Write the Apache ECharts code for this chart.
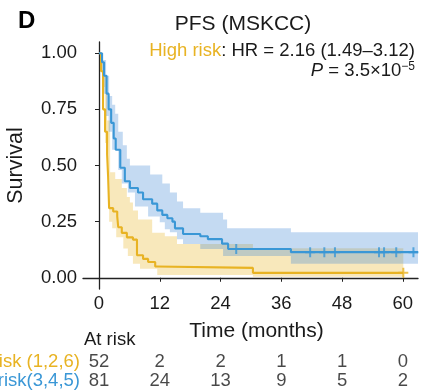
<!DOCTYPE html>
<html>
<head>
<meta charset="utf-8">
<script src="https://cdn.jsdelivr.net/npm/echarts@6/dist/echarts.min.js"></script>
<style>
  html, body { margin: 0; padding: 0; background: #fff; }
  #chart { width: 427px; height: 392px; }
</style>
</head>
<body>
<div id="chart"></div>
<script>
// KM curves: [months, survival]
const highRiskCurve = [[0,1],[0.4,0.92],[0.8,0.75],[1.2,0.65],[1.6,0.55],[1.8,0.45],[2.0,0.31],[2.8,0.295],[3.6,0.273],[3.8,0.225],[4.5,0.2],[5.5,0.18],[6.7,0.17],[7.5,0.1],[8.7,0.084],[9.7,0.07],[11.1,0.05],[11.5,0.044],[30.4,0.022],[60.1,0.022]];
const lowRiskCurve = [[0,1],[0.6,0.96],[1.0,0.9],[1.5,0.82],[1.9,0.75],[2.4,0.69],[2.9,0.62],[3.3,0.57],[4.2,0.49],[5.1,0.43],[6.1,0.4],[7.7,0.38],[8.7,0.35],[10.5,0.33],[11.5,0.3],[12.5,0.28],[13.5,0.265],[14.5,0.25],[15.0,0.22],[16.6,0.195],[20.0,0.185],[21.5,0.172],[24.3,0.152],[25.5,0.128],[37.9,0.114],[63,0.114]];

// confidence bands
const highRiskUpper = [[0,1],[0.8,0.9],[1.6,0.7],[2.2,0.47],[3.2,0.44],[4.5,0.4],[5.5,0.36],[6.1,0.335],[6.7,0.3],[7.7,0.26],[10.5,0.2],[13,0.185],[15.4,0.15],[30.4,0.132],[60.1,0.132]];
const highRiskLower = [[0,1],[0.6,0.85],[1.2,0.6],[1.8,0.45],[2.0,0.25],[2.6,0.22],[3.4,0.18],[4.8,0.13],[5.7,0.097],[6.7,0.062],[8.1,0.04],[11.5,0.012],[30.4,0.005],[60.1,0.005]];
const lowRiskUpper = [[0,1],[0.8,0.97],[1.4,0.9],[2.0,0.81],[2.6,0.77],[3.2,0.73],[3.8,0.65],[4.7,0.59],[5.5,0.53],[6.1,0.5],[10.1,0.46],[12.5,0.42],[14,0.38],[15.4,0.34],[16.6,0.31],[20,0.29],[24.5,0.26],[25.3,0.22],[37.9,0.203],[63,0.203]];
const lowRiskLower = [[0,1],[0.5,0.92],[1,0.82],[1.4,0.72],[1.9,0.65],[2.6,0.57],[3.8,0.48],[4.5,0.42],[5.7,0.38],[7.1,0.317],[9.7,0.273],[12,0.247],[13,0.216],[14,0.203],[15.4,0.172],[16.6,0.15],[20,0.128],[24.5,0.097],[37.9,0.062],[63,0.062]];

// censoring marks
const highRiskCensor = [[60.1,0.022]];
const lowRiskCensor = [[27.1,0.128],[41.7,0.114],[44.5,0.114],[46.6,0.114],[55.3,0.114],[56.3,0.114],[58.7,0.114],[62.1,0.114]];

// axes + risk table
const xTicks = [0, 12, 24, 36, 48, 60];
const yTicks = [0, 0.25, 0.5, 0.75, 1];
const riskGroups = ["High risk (1,2,6)", "Low risk(3,4,5)"];
const highRiskAtRisk = [52, 2, 2, 1, 1, 0];
const lowRiskAtRisk = [81, 24, 13, 9, 5, 2];

const GOLD = "#E8B323";
const BLUE = "#3A97D6";
const INK = "#1a1a1a";
const FONT = "Liberation Sans, Arial, Helvetica, sans-serif";
const PLUS = "path://M4,0h2v4h4v2h-4v4h-2v-4h-4v-2h4z";

const chart = echarts.init(document.getElementById("chart"));

// band polygon: upper edge as steps forward, lower edge back
function band(upper, lower, fill) {
  return {
    type: "custom",
    coordinateSystem: "cartesian2d",
    silent: true,
    z: 1,
    data: [[0, 0]],
    renderItem: (params, api) => {
      const pts = [];
      upper.forEach((p, i) => {
        pts.push(api.coord(p));
        if (i + 1 < upper.length) pts.push(api.coord([upper[i + 1][0], p[1]]));
      });
      for (let i = lower.length - 1; i >= 0; i--) {
        if (i + 1 < lower.length) pts.push(api.coord([lower[i + 1][0], lower[i][1]]));
        pts.push(api.coord(lower[i]));
      }
      return { type: "polygon", shape: { points: pts }, style: { fill } };
    }
  };
}

function curve(data, color) {
  return {
    type: "line", data, step: "end", showSymbol: false, silent: true, z: 3,
    lineStyle: { color, width: 2.1 }
  };
}

function censor(data, color) {
  return {
    type: "scatter", data, symbol: PLUS, symbolSize: 10, silent: true, z: 4,
    itemStyle: { color }
  };
}

const tableData = [];
xTicks.forEach((t, j) => {
  tableData.push([t, riskGroups[0], highRiskAtRisk[j]]);
  tableData.push([t, riskGroups[1], lowRiskAtRisk[j]]);
});

chart.setOption({
  animation: false,
  textStyle: { fontFamily: FONT },
  grid: [
    { left: 83, right: 9, top: 42, bottom: 103, outerBoundsMode: "none", containLabel: false },
    { left: 83, right: 9, top: 352.5, height: 38, outerBoundsMode: "none", containLabel: false }
  ],
  xAxis: [
    {
      type: "value", gridIndex: 0, min: -3.16, max: 63,
      name: "Time (months)", nameLocation: "middle", nameGap: 32,
      nameTextStyle: { fontSize: 21, color: INK, fontFamily: FONT, padding: [0, 0, 0, 12] },
      splitLine: { show: false },
      axisLine: { lineStyle: { color: "#222", width: 1.3 } },
      axisTick: { customValues: xTicks, length: 4, lineStyle: { color: "#222" } },
      axisLabel: { customValues: xTicks, fontSize: 18.5, color: INK, margin: 5, fontFamily: FONT }
    },
    { type: "value", gridIndex: 1, min: -3.16, max: 63, show: false }
  ],
  yAxis: [
    {
      type: "value", gridIndex: 0, min: -0.05, max: 1.05,
      name: "Survival", nameLocation: "middle", nameGap: 56,
      nameTextStyle: { fontSize: 21.5, color: INK, fontFamily: FONT },
      splitLine: { show: false },
      axisLine: { show: true, lineStyle: { color: "#222", width: 1.3 } },
      axisTick: { show: true, customValues: yTicks, length: 4, lineStyle: { color: "#222" } },
      axisLabel: {
        customValues: yTicks, fontSize: 18.5, color: INK, margin: 6, fontFamily: FONT,
        formatter: v => v.toFixed(2)
      }
    },
    {
      type: "category", gridIndex: 1, data: riskGroups, inverse: true,
      axisLine: { show: false }, axisTick: { show: false },
      axisLabel: {
        interval: 0, hideOverlap: false,
        margin: 3, fontSize: 18.5, fontFamily: FONT,
        color: (v, i) => (i === 0 ? GOLD : BLUE)
      }
    }
  ],
  graphic: [
    { type: "text", left: 18, top: 9, style: { text: "D", font: "bold 24px " + FONT, fill: "#000" } },
    { type: "text", x: 243, y: 24, style: { text: "PFS (MSKCC)", font: "21px " + FONT, fill: INK, align: "center", verticalAlign: "middle" } },
    {
      type: "text", x: 415, y: 51, style: {
        text: "{g|High risk}: HR = 2.16 (1.49–3.12)", font: "18.5px " + FONT, fill: INK,
        align: "right", verticalAlign: "middle",
        rich: { g: { fill: GOLD, font: "18.5px " + FONT } }
      }
    },
    {
      type: "text", x: 415, y: 71, style: {
        text: "{i|P} = 3.5×10{s|−5}", font: "18.5px " + FONT, fill: INK,
        align: "right", verticalAlign: "middle",
        rich: {
          i: { font: "italic 18.5px " + FONT, fill: INK },
          s: { font: "12px " + FONT, fill: INK, padding: [0, 0, 9, 0] }
        }
      }
    },
    { type: "text", left: 84, top: 330, style: { text: "At risk", font: "18.5px " + FONT, fill: INK } }
  ],
  series: [
    band(highRiskUpper, highRiskLower, "rgba(235,185,50,0.33)"),
    band(lowRiskUpper, lowRiskLower, "rgba(70,140,215,0.32)"),
    curve(highRiskCurve, GOLD),
    curve(lowRiskCurve, BLUE),
    censor(highRiskCensor, GOLD),
    censor(lowRiskCensor, BLUE),
    {
      type: "scatter", xAxisIndex: 1, yAxisIndex: 1, data: tableData,
      symbolSize: 0, silent: true,
      label: {
        show: true, position: "inside", formatter: p => p.value[2],
        fontSize: 18.5, color: INK, fontFamily: FONT
      }
    }
  ]
});
</script>
</body>
</html>
